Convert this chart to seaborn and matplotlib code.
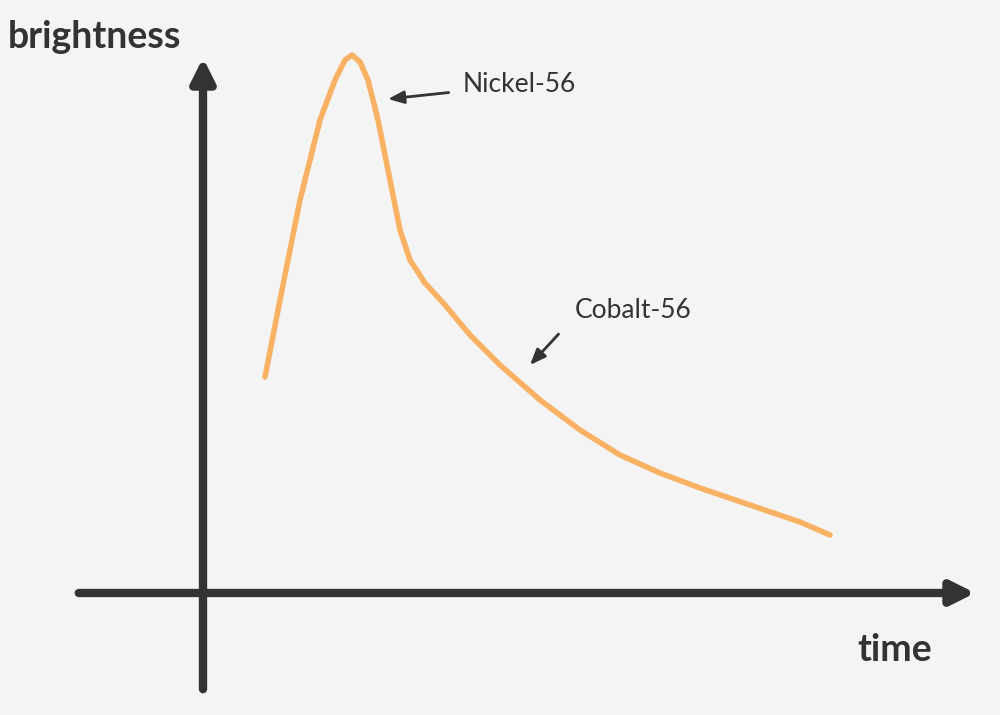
import matplotlib
matplotlib.use("Agg")
import matplotlib.pyplot as plt
import seaborn as sns
import pandas as pd

# schematic light curve (pixel-like units)
time = [265, 280, 300, 320, 335, 345, 352, 360, 368, 378, 390, 400, 410, 425, 445,
        470, 500, 540, 580, 620, 660, 700, 750, 800, 830]
brightness = [377, 300, 200, 120, 80, 60, 55, 62, 80, 120, 180, 230, 260, 283, 305,
              335, 365, 400, 430, 455, 473, 488, 505, 522, 535]
labels = ["Nickel-56", "Cobalt-56"]

sns.set_style("white")
plt.rcParams['font.family'] = ['Lato', 'DejaVu Sans']
bg = "#F4F4F4"
dark = "#333333"
fig = plt.figure(figsize=(10, 7.15), dpi=100, facecolor=bg)
ax = fig.add_axes([0, 0, 1, 1])
ax.set_facecolor(bg)
ax.set_xlim(0, 1000)
ax.set_ylim(715, 0)
ax.axis("off")

df = pd.DataFrame({"time": time, "brightness": brightness})
sns.lineplot(data=df, x="time", y="brightness", ax=ax, color="#F9B264", lw=4,
             sort=False, solid_capstyle="round")

# axes arrows
ax.annotate("", xy=(203, 55), xytext=(203, 692),
            arrowprops=dict(arrowstyle="-|>,head_length=1.4,head_width=0.7", lw=6, color=dark))
ax.annotate("", xy=(978, 593), xytext=(76, 593),
            arrowprops=dict(arrowstyle="-|>,head_length=1.4,head_width=0.7", lw=6, color=dark))

ax.text(8, 37, "brightness", fontsize=27, fontweight="bold", color=dark, va="center", ha="left")
ax.text(932, 650, "time", fontsize=27, fontweight="bold", color=dark, va="center", ha="right")

ax.annotate(labels[0], xy=(388, 99), xytext=(463, 85), fontsize=19, color=dark, va="center",
            arrowprops=dict(arrowstyle="-|>,head_length=0.5,head_width=0.2", lw=2, color=dark,
                            shrinkA=8, shrinkB=0))
ax.annotate(labels[1], xy=(530, 365), xytext=(575, 310), fontsize=19, color=dark, va="center",
            arrowprops=dict(arrowstyle="-|>,head_length=0.5,head_width=0.2", lw=2, color=dark,
                            shrinkA=14, shrinkB=0, relpos=(0.05, 0.5)))

fig.savefig("out.png", dpi=100, facecolor=bg)
